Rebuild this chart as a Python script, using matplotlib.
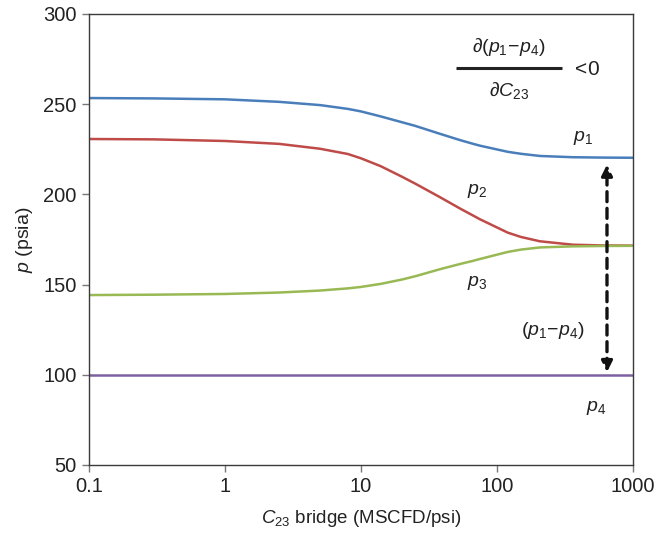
import matplotlib
matplotlib.use("Agg")
import matplotlib.pyplot as plt
from matplotlib.ticker import FixedLocator, FixedFormatter, NullLocator

plt.rcParams['font.family'] = ['Liberation Sans', 'DejaVu Sans']
plt.rcParams['mathtext.fontset'] = 'custom'
plt.rcParams['mathtext.rm'] = 'Liberation Sans'
plt.rcParams['mathtext.it'] = 'Liberation Sans:italic'
plt.rcParams['mathtext.sf'] = 'Liberation Sans'

# Bridge conductance C23 (MSCFD/psi)
c23 = [0.1, 0.3, 1, 2.5, 5, 8, 10, 14, 20, 25, 38, 54, 67, 75, 120, 150, 207, 362, 600, 1000]

# Node pressures (psia)
p1 = [253.4, 253.2, 252.7, 251.3, 249.5, 247.4, 246.0, 243.2, 240.0, 238.0,
      233.6, 230.0, 228.0, 227.0, 223.6, 222.5, 221.3, 220.6, 220.4, 220.3]
p2 = [230.7, 230.5, 229.6, 228.0, 225.3, 222.4, 220.0, 215.6, 209.8, 206.0,
      198.5, 192.0, 188.2, 186.2, 178.8, 176.4, 174.0, 172.1, 171.7, 171.6]
p3 = [144.2, 144.4, 144.8, 145.6, 146.7, 147.9, 148.7, 150.4, 152.8, 154.6,
      158.5, 161.5, 163.2, 164.2, 168.1, 169.4, 170.6, 171.2, 171.4, 171.5]
p4 = [100.0] * len(c23)

x_ticks = [0.1, 1, 10, 100, 1000]
x_tick_labels = ["0.1", "1", "10", "100", "1000"]
y_ticks = [50, 100, 150, 200, 250, 300]

fig = plt.figure(figsize=(6.67, 5.40), dpi=100)
ax = fig.add_axes([0.1334, 0.1389, 0.8156, 0.8352])

ax.plot(c23, p1, color="#4A7EBB", lw=1.8, solid_joinstyle="round")
ax.plot(c23, p2, color="#BE4B48", lw=1.8, solid_joinstyle="round")
ax.plot(c23, p3, color="#98B954", lw=1.8, solid_joinstyle="round")
ax.plot(c23, p4, color="#7D60A0", lw=1.8)

ax.set_xscale("log")
ax.set_xlim(0.1, 1000)
ax.set_ylim(50, 300)
ax.xaxis.set_major_locator(FixedLocator(x_ticks))
ax.xaxis.set_major_formatter(FixedFormatter(x_tick_labels))
ax.xaxis.set_minor_locator(NullLocator())
ax.set_yticks(y_ticks)

for s in ax.spines.values():
    s.set_color("#3a3a3a")
    s.set_linewidth(1.0)
ax.tick_params(axis="both", direction="out", length=5, width=1.0,
               color="#777777", labelsize=14.5, labelcolor="#222222", pad=4)

ax.set_xlabel(r"$C_{23}$ bridge (MSCFD/psi)", fontsize=13.5, color="#222222", labelpad=8)
ax.set_ylabel(r"$p$ (psia)", fontsize=14, color="#222222", labelpad=6)

# Curve labels
lab = dict(fontsize=14, color="#222222", ha="center", va="center")
ax.text(430, 231, r"$p_1$", **lab)
ax.text(72, 202, r"$p_2$", **lab)
ax.text(72, 151, r"$p_3$", **lab)
ax.text(535, 81.5, r"$p_4$", **lab)
ax.text(257, 124.5, r"$(p_1\!-\!p_4)$", **lab)

# Derivative inequality
ax.text(123, 281.5, r"$\partial(p_1\!-\!p_4)$", fontsize=14, color="#222222",
        ha="center", va="center")
ax.text(123, 257.5, r"$\partial C_{23}$", fontsize=14, color="#222222",
        ha="center", va="center")
ax.plot([50, 300], [270, 270], color="#222222", lw=2.2, solid_capstyle="butt")
ax.text(450, 269.5, r"$<\!$0", fontsize=15, color="#222222", ha="center", va="center")

# Pressure-difference arrow
ax.annotate("", xy=(644, 216.5), xytext=(644, 101.5),
            arrowprops=dict(arrowstyle="<|-|>", linestyle=(0, (3, 2)), lw=2.4,
                            color="#111111", mutation_scale=16,
                            shrinkA=0, shrinkB=0))

fig.savefig("out.png", dpi=100)
